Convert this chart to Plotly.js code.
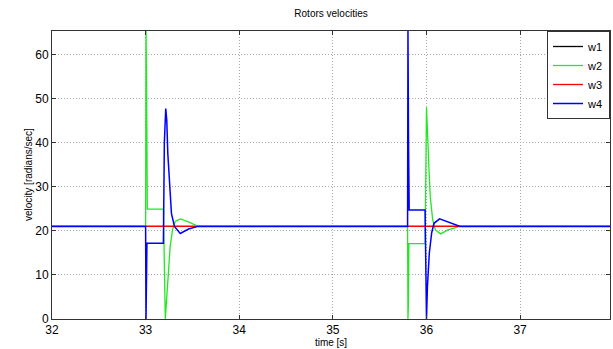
<!DOCTYPE html>
<html>
<head>
<meta charset="utf-8">
<script src="https://cdn.plot.ly/plotly-3.0.1.min.js"></script>
<style>
  html, body { margin: 0; padding: 0; background: #fff; }
  #chart { width: 613px; height: 349px; }
</style>
</head>
<body>
<div id="chart"></div>
<script>
// Time axis limits and ticks
const xTicks = [32, 33, 34, 35, 36, 37];
const yTicks = [0, 10, 20, 30, 40, 50, 60];

// w1 (black) and w3 (red): constant rotor speed
const t_w1 = [32, 37.96];
const w1   = [21, 21];
const t_w3 = [32, 37.96];
const w3   = [21, 21];

// w2 (green)
const t_w2 = [32, 33.000, 33.004, 33.010, 33.018, 33.190, 33.210, 33.226, 33.244, 33.262, 33.287, 33.316, 33.370, 33.458, 33.560,
              35.798, 35.802, 35.806, 35.812, 35.985, 36.000, 36.010, 36.027, 36.040, 36.066, 36.095, 36.150, 36.230, 36.360, 37.96];
const w2   = [21, 21, 66, 55, 24.9, 24.9, 0, 5.9, 11.9, 16.4, 20.2, 22.1, 22.7, 22.0, 21,
              21, 0, 3, 17.1, 17.1, 48.0, 41.3, 33.8, 27.8, 22.5, 20.2, 19.3, 20.2, 21, 21];

// w4 (blue)
const t_w4 = [32, 33.000, 33.004, 33.008, 33.014, 33.190, 33.200, 33.215, 33.226, 33.237, 33.255, 33.276, 33.308, 33.370, 33.458, 33.560,
              35.798, 35.802, 35.808, 35.815, 35.985, 36.000, 36.010, 36.030, 36.055, 36.080, 36.140, 36.230, 36.360, 37.96];
const w4   = [21, 21, 0, 5, 17.2, 17.2, 40, 47.7, 45.0, 37.5, 29.9, 23.9, 21.0, 19.4, 20.4, 21,
              21, 66, 40, 24.7, 24.7, 0, 7.4, 14.9, 19.5, 21.7, 22.7, 22.0, 21, 21];

const yTitle = 'velocity [radians/sec]';

const traces = [
  {x: t_w1, y: w1, name: 'w1', mode: 'lines', line: {color: '#000000', width: 1.3}},
  {x: t_w2, y: w2, name: 'w2', mode: 'lines', line: {color: '#22e822', width: 1.3}},
  {x: t_w3, y: w3, name: 'w3', mode: 'lines', line: {color: '#ff0000', width: 1.3}},
  {x: t_w4, y: w4, name: 'w4', mode: 'lines', line: {color: '#0000ff', width: 1.5}}
];

const axisCommon = {
  showline: true, linecolor: '#333333', linewidth: 1, mirror: 'ticks',
  ticks: 'inside', ticklen: 4, tickcolor: '#333333',
  showgrid: true, gridcolor: '#a8a8a8', griddash: '1px,2px', gridwidth: 1,
  zeroline: false,
  tickfont: {family: 'Liberation Sans, Arial, sans-serif', size: 12, color: '#000'}
};

const layout = {
  width: 613, height: 349,
  margin: {l: 52, r: 3, t: 31, b: 30},
  paper_bgcolor: '#ffffff', plot_bgcolor: '#ffffff',
  font: {family: 'Liberation Sans, Arial, sans-serif', color: '#000'},
  title: {text: 'Rotors velocities', font: {size: 10, color: '#000'}, x: 0.54, xanchor: 'center', y: 0.962, yref: 'container', yanchor: 'middle'},
  xaxis: Object.assign({}, axisCommon, {
    range: [32, 37.96], tickvals: xTicks, ticktext: xTicks.map(String),
    title: {text: 'time [s]', font: {size: 10}, standoff: 2}
  }),
  yaxis: Object.assign({}, axisCommon, {
    range: [0, 65.3], tickvals: yTicks, ticktext: yTicks.map(String)
  }),
  annotations: [{
    text: yTitle, xref: 'paper', yref: 'paper', x: 0, y: 0.5,
    xanchor: 'center', yanchor: 'middle', xshift: -24, textangle: -90,
    showarrow: false, font: {size: 10, color: '#000'}
  }],
  showlegend: true,
  legend: {
    x: 1, y: 1, xanchor: 'right', yanchor: 'top',
    bgcolor: '#ffffff', bordercolor: '#333333', borderwidth: 1,
    font: {size: 11, color: '#000'}, tracegroupgap: 0
  }
};

Plotly.newPlot('chart', traces, layout, {staticPlot: true, displayModeBar: false});
</script>
</body>
</html>
